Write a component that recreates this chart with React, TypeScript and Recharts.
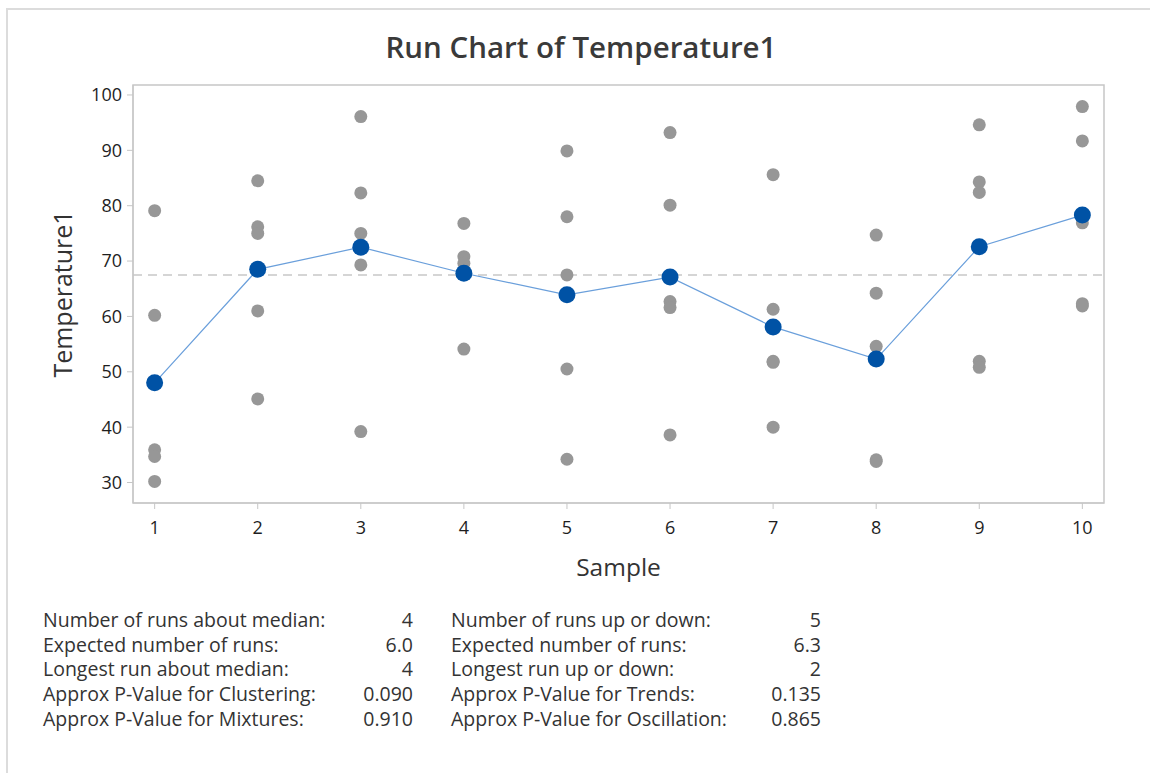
import React from 'react';
import { ScatterChart, Scatter, XAxis, YAxis, ReferenceLine, ReferenceArea, Label } from 'recharts';

const samples = [1, 2, 3, 4, 5, 6, 7, 8, 9, 10];
const subgroupValues: number[][] = [
  [79.1, 60.2, 35.9, 34.7, 30.2],
  [84.5, 76.2, 75.0, 61.0, 45.1],
  [96.1, 82.3, 75.0, 69.3, 39.2],
  [76.8, 70.8, 69.6, 67.8, 54.1],
  [89.9, 78.0, 67.5, 50.5, 34.2],
  [93.2, 80.1, 62.7, 61.6, 38.6],
  [85.6, 61.3, 51.9, 51.7, 40.0],
  [74.7, 64.2, 54.6, 34.1, 33.8],
  [94.6, 84.3, 82.4, 51.9, 50.8],
  [97.9, 91.7, 76.9, 62.3, 61.9],
];
const sampleMeans = [48.0, 68.5, 72.5, 67.8, 63.9, 67.1, 58.1, 52.3, 72.6, 78.3];
const median = 67.5;
const yTicks = [30, 40, 50, 60, 70, 80, 90, 100];

const statsLeft = [
  ['Number of runs about median:', '4'],
  ['Expected number of runs:', '6.0'],
  ['Longest run about median:', '4'],
  ['Approx P-Value for Clustering:', '0.090'],
  ['Approx P-Value for Mixtures:', '0.910'],
];
const statsRight = [
  ['Number of runs up or down:', '5'],
  ['Expected number of runs:', '6.3'],
  ['Longest run up or down:', '2'],
  ['Approx P-Value for Trends:', '0.135'],
  ['Approx P-Value for Oscillation:', '0.865'],
];

const font = '"Open Sans", sans-serif';
const frame = '#c6c6c6';
const xDomain = [0.79, 10.21];
const yDomain = [26.3, 101.8];

const points = samples.flatMap((s, i) => subgroupValues[i].map((v) => ({ x: s, y: v })));
const means = samples.map((s, i) => ({ x: s, y: sampleMeans[i] }));

const grayDot = (props: any) => <circle cx={props.cx} cy={props.cy} r={6.5} fill="#979797" />;
const blueDot = (props: any) => <circle cx={props.cx} cy={props.cy} r={8.5} fill="#0052A5" />;

function StatsColumn({ rows, left, valueRight }: { rows: string[][]; left: number; valueRight: number }) {
  const base = { position: 'absolute' as const, fontSize: 19.5, color: '#333', lineHeight: '24px' };
  return (
    <>
      {rows.map(([label, value], i) => (
        <React.Fragment key={label}>
          <div style={{ ...base, left, top: 608 + i * 24.7 }}>{label}</div>
          <div style={{ ...base, left: valueRight - 80, width: 80, textAlign: 'right', top: 608 + i * 24.7 }}>{value}</div>
        </React.Fragment>
      ))}
    </>
  );
}

export default function App() {
  return (
    <div style={{ position: 'absolute', left: 0, top: 0, width: 1150, height: 773, background: '#fff', fontFamily: font, overflow: 'hidden' }}>
      <div style={{ position: 'absolute', left: 6, top: 8, width: 1144, height: 765, borderTop: '2px solid #dcdcdc', borderLeft: '2px solid #dcdcdc' }} />
      <div style={{ position: 'absolute', left: 0, width: 1162, top: 26, textAlign: 'center', fontSize: 29.5, fontWeight: 600, color: '#3a3a3a' }}>
        Run Chart of Temperature1
      </div>
      <div style={{ position: 'absolute', left: 0, top: 0 }}>
        <ScatterChart width={1150} height={773} margin={{ top: 85, right: 46, left: 0, bottom: 170 }}>
          <XAxis
            dataKey="x"
            type="number"
            domain={xDomain}
            ticks={samples}
            allowDataOverflow
            tickSize={6}
            tickMargin={12}
            height={100}
            stroke={frame}
            tick={{ fill: '#1e1e1e', fontSize: 18, fontFamily: font }}
          >
            <Label value="Sample" position="insideTop" offset={56} style={{ fill: '#333', fontSize: 24.5, fontFamily: font }} />
          </XAxis>
          <YAxis
            dataKey="y"
            type="number"
            domain={yDomain}
            ticks={yTicks}
            allowDataOverflow
            tickSize={6}
            tickMargin={5}
            width={133}
            stroke={frame}
            tick={{ fill: '#1e1e1e', fontSize: 18, fontFamily: font }}
          >
            <Label value="Temperature1" angle={-90} position="insideLeft" offset={63} style={{ fill: '#333', fontSize: 25, fontFamily: font, textAnchor: 'middle' }} />
          </YAxis>
          <ReferenceArea x1={xDomain[0]} x2={xDomain[1]} y1={yDomain[0]} y2={yDomain[1]} fill="none" stroke={frame} strokeWidth={1.5} />
          <ReferenceLine y={median} stroke="#c8c8c8" strokeDasharray="9 6" strokeWidth={1.5} />
          <Scatter data={points} shape={grayDot} isAnimationActive={false} />
          <Scatter data={means} shape={blueDot} line={{ stroke: '#6a9fdb', strokeWidth: 1.2 }} isAnimationActive={false} />
        </ScatterChart>
      </div>
      <StatsColumn rows={statsLeft} left={43} valueRight={413} />
      <StatsColumn rows={statsRight} left={451} valueRight={821} />
    </div>
  );
}
